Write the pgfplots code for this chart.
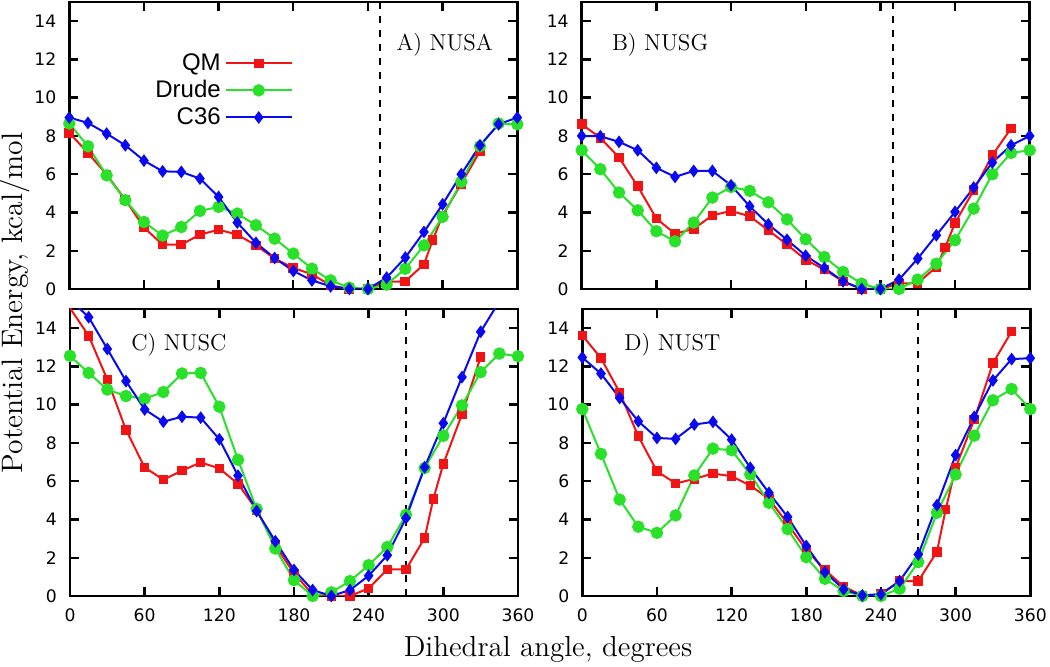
\documentclass[border=0pt]{standalone}
\usepackage{fontspec}
\usepackage{pgfplots}
\pgfplotsset{compat=1.18}
\newfontfamily\sansf{Liberation Sans}
\newfontfamily\tickf{DejaVu Sans}
\definecolor{qmred}{RGB}{240,20,20}
\definecolor{drgreen}{RGB}{40,225,40}
\definecolor{cblue}{RGB}{10,10,240}

\pgfplotsset{
  panel/.style={scale only axis, width=224pt, height=143.5pt,
    xmin=0, xmax=360, ymin=0, ymax=15,
    xtick={0,60,...,360}, ytick={0,2,...,14},
    axis line style={line width=1.3pt},
    major tick length=4.5pt,
    every tick/.style={black, line width=1.2pt},
    tick label style={font=\tickf\fontsize{8.6}{9}\selectfont},
    /pgf/number format/assume math mode=true,
    yticklabel style={xshift=-3pt},
    xticklabel style={yshift=-3pt},
  },
  qm/.style={qmred, line width=1pt, mark=square*, mark size=1.9pt, mark options={solid}},
  dr/.style={drgreen, line width=1pt, mark=*, mark size=2.6pt, mark options={solid}},
  c36/.style={cblue, line width=1pt, mark=diamond*, mark size=2.4pt, mark options={solid}},
  vline/.style={black, line width=1pt, dash pattern=on 3.5pt off 3.5pt, forget plot},
}
\tikzset{plabel/.style={font=\fontsize{11.5}{12}\selectfont}}

\begin{document}
\begin{tikzpicture}
\path[use as bounding box] (0pt,0pt) rectangle (525pt,333.5pt);

% A) NUSA
\begin{axis}[panel, at={(34.65pt,332.5pt)}, anchor=north west, xticklabels={},
  legend style={draw=none, fill=none, at={(0.513,0.85)}, anchor=north east,
    font=\sansf\fontsize{12}{12}\selectfont, row sep=-0.5pt},
  legend cell align=right, legend plot pos=right,
  legend image code/.code={\draw[mark repeat=2, mark phase=2, #1] plot coordinates {(0pt,0pt)(16.5pt,0pt)(33pt,0pt)};}]
\addplot[qm] coordinates {(0,8.16)(15,7.11)(30,5.98)(45,4.67)(60,3.21)(75,2.32)(90,2.32)(105,2.84)(120,3.10)(135,2.84)(150,2.28)(165,1.59)(180,1.10)(195,0.77)(210,0.19)(225,0.0)(240,0.02)(255,0.37)(270,0.40)(285,1.29)(292,2.55)(300,3.85)(315,5.5)(330,7.2)};
\addlegendentry{QM}
\addplot[dr] coordinates {(0,8.65)(15,7.46)(30,5.94)(45,4.64)(60,3.50)(75,2.79)(90,3.24)(105,4.08)(120,4.29)(135,3.94)(150,3.33)(165,2.63)(180,1.85)(195,1.06)(210,0.45)(225,0.07)(240,0.0)(255,0.23)(270,1.06)(285,2.28)(300,3.77)(315,5.60)(330,7.46)(345,8.65)(360,8.61)};
\addlegendentry{Drude}
\addplot[c36] coordinates {(0,8.96)(15,8.68)(30,8.12)(45,7.51)(60,6.71)(75,6.15)(90,6.12)(105,5.77)(120,4.81)(135,3.47)(150,2.41)(165,1.62)(180,0.94)(195,0.45)(210,0.14)(225,0.0)(240,0.0)(255,0.59)(270,1.64)(285,2.98)(300,4.43)(315,6.0)(330,7.51)(345,8.61)(360,8.96)};
\addlegendentry{C36}
\addplot[vline] coordinates {(250,0)(250,15)};
\node[plabel] at (rel axis cs:0.838,0.85) {A) NUSA};
\end{axis}

% B) NUSG
\begin{axis}[panel, at={(290.85pt,332.5pt)}, anchor=north west, xticklabels={}]
\addplot[qm] coordinates {(0,8.61)(15,7.90)(30,6.87)(45,5.37)(60,3.68)(75,2.89)(90,3.14)(105,3.85)(120,4.08)(135,3.80)(150,3.07)(165,2.32)(180,1.53)(195,1.01)(210,0.40)(225,0.0)(240,0.0)(255,0.28)(270,0.31)(285,1.15)(292,2.16)(300,3.45)(315,5.16)(330,6.99)(345,8.39)};
\addplot[dr] coordinates {(0,7.25)(15,6.26)(30,5.04)(45,4.11)(60,3.02)(75,2.49)(90,3.47)(105,4.78)(120,5.33)(135,5.13)(150,4.53)(165,3.64)(180,2.60)(195,1.67)(210,0.89)(225,0.28)(240,0.0)(255,0.0)(270,0.49)(285,1.32)(300,2.55)(315,4.20)(330,6.0)(345,7.11)(360,7.25)};
\addplot[c36] coordinates {(0,8.0)(15,7.98)(30,7.69)(45,7.25)(60,6.33)(75,5.86)(90,6.17)(105,6.17)(120,5.42)(135,4.32)(150,3.38)(165,2.57)(180,1.74)(195,1.10)(210,0.40)(225,0.0)(240,0.0)(255,0.49)(270,1.59)(285,2.81)(300,4.03)(315,5.30)(330,6.61)(345,7.51)(360,8.0)};
\addplot[vline] coordinates {(250,0)(250,15)};
\node[plabel] at (rel axis cs:0.175,0.85) {B) NUSG};
\end{axis}

% C) NUSC
\begin{axis}[panel, at={(35pt,179pt)}, anchor=north west]
\addplot[qm, no markers] coordinates {(0,15.05)(15,13.6)(30,11.31)(45,8.68)(60,6.72)(75,6.08)(90,6.55)(105,6.98)(120,6.67)(135,5.86)(150,4.5)(165,2.65)(180,1.18)(195,0.09)(210,0.0)(225,0.0)(240,0.40)(255,1.39)(270,1.39)(285,3.03)(292,5.08)(300,6.9)(315,9.5)(330,12.49)};
\addplot[qm, only marks, restrict y to domain=-1:15] coordinates {(0,15.05)(15,13.6)(30,11.31)(45,8.68)(60,6.72)(75,6.08)(90,6.55)(105,6.98)(120,6.67)(135,5.86)(150,4.5)(165,2.65)(180,1.18)(195,0.09)(210,0.0)(225,0.0)(240,0.40)(255,1.39)(270,1.39)(285,3.03)(292,5.08)(300,6.9)(315,9.5)(330,12.49)};
\addplot[dr] coordinates {(0,12.55)(15,11.66)(30,10.79)(45,10.45)(60,10.31)(75,10.66)(90,11.63)(105,11.66)(120,9.89)(135,7.12)(150,4.55)(165,2.48)(180,0.83)(195,0.0)(210,0.19)(225,0.78)(240,1.61)(255,2.56)(270,4.24)(285,6.69)(300,8.37)(315,9.96)(330,11.70)(345,12.67)(360,12.53)};
\addplot[c36, no markers] coordinates {(0,15.5)(15,14.57)(30,12.91)(45,11.23)(60,9.75)(75,9.11)(90,9.37)(105,9.32)(120,8.19)(135,6.29)(150,4.44)(165,2.86)(180,1.36)(195,0.31)(210,0.0)(225,0.31)(240,1.06)(255,2.13)(270,4.07)(285,6.73)(300,9.03)(315,11.44)(330,13.81)(345,15.4)(360,15.5)};
\addplot[c36, only marks, restrict y to domain=-1:15] coordinates {(0,15.5)(15,14.57)(30,12.91)(45,11.23)(60,9.75)(75,9.11)(90,9.37)(105,9.32)(120,8.19)(135,6.29)(150,4.44)(165,2.86)(180,1.36)(195,0.31)(210,0.0)(225,0.31)(240,1.06)(255,2.13)(270,4.07)(285,6.73)(300,9.03)(315,11.44)(330,13.81)(345,15.4)(360,15.5)};
\addplot[vline] coordinates {(270,0)(270,15)};
\node[plabel] at (rel axis cs:0.243,0.876) {C) NUSC};
\end{axis}

% D) NUST
\begin{axis}[panel, at={(291.15pt,179pt)}, anchor=north west]
\addplot[qm] coordinates {(0,13.62)(15,12.43)(30,10.64)(45,8.35)(60,6.52)(75,5.88)(90,6.12)(105,6.40)(120,6.26)(135,5.77)(150,5.08)(165,3.77)(180,2.40)(195,1.36)(210,0.49)(225,0.03)(240,0.09)(255,0.78)(270,0.78)(285,2.31)(292,4.52)(300,6.70)(315,9.22)(330,12.17)(345,13.83)};
\addplot[dr] coordinates {(0,9.77)(15,7.43)(30,5.04)(45,3.62)(60,3.30)(75,4.21)(90,6.30)(105,7.70)(120,7.62)(135,6.35)(150,4.87)(165,3.5)(180,2.03)(195,0.90)(210,0.26)(225,0.0)(240,0.0)(255,0.38)(270,1.77)(285,4.35)(300,6.35)(315,8.38)(330,10.23)(345,10.82)(360,9.77)};
\addplot[c36] coordinates {(0,12.47)(15,11.62)(30,10.35)(45,9.13)(60,8.26)(75,8.21)(90,8.96)(105,9.10)(120,8.17)(135,6.70)(150,5.39)(165,4.13)(180,2.61)(195,1.25)(210,0.35)(225,0.03)(240,0.09)(255,0.78)(270,2.17)(285,4.75)(300,7.36)(315,9.36)(330,11.27)(345,12.38)(360,12.43)};
\addplot[vline] coordinates {(270,0)(270,15)};
\node[plabel] at (rel axis cs:0.201,0.876) {D) NUST};
\end{axis}

\node[rotate=90, font=\fontsize{14.8}{16}\selectfont] at (7.5pt,182pt) {Potential Energy, kcal/mol};
\node[font=\fontsize{14.5}{16}\selectfont] at (274pt,9pt) {Dihedral angle, degrees};
\end{tikzpicture}
\end{document}
